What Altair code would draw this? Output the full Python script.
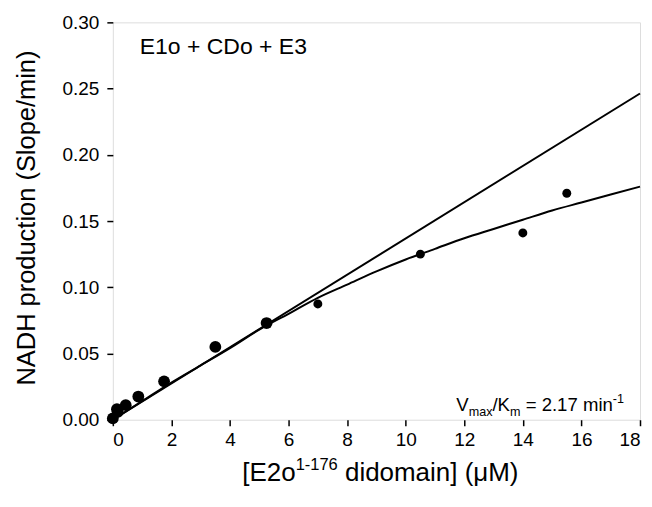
import altair as alt
import pandas as pd

# data points
conc = [0.0, 0.14, 0.17, 0.44, 0.87, 1.75, 3.5, 5.25, 7.0, 10.5, 14.0, 15.5]
rate = [0.001, 0.008, 0.006, 0.011, 0.0175, 0.029, 0.055, 0.073, 0.0874, 0.125, 0.141, 0.171]
big = [1, 1, 1, 1, 1, 1, 1, 1, 0, 0, 0, 0]

# straight initial-slope line
lin_x = [0.0, 18.0]
lin_y = [0.0, 0.2463]

# fitted curve
fit_x = [0, 1, 2, 3, 4, 5, 6, 7, 8, 9, 10, 11, 12, 13, 14, 15, 16, 17, 18]
fit_y = [0.0, 0.014, 0.028, 0.041, 0.054, 0.068, 0.080, 0.092, 0.102, 0.112,
         0.121, 0.129, 0.137, 0.144, 0.151, 0.158, 0.164, 0.170, 0.176]

x_ticks = [0, 2, 4, 6, 8, 10, 12, 14, 16, 18]
y_ticks = [0.0, 0.05, 0.10, 0.15, 0.20, 0.25, 0.30]

FONT = "Liberation Sans"
W, H = 528, 398

AW = {' ': 278, '[': 278, ']': 278, 'E': 667, '2': 556, 'o': 556, '1': 556, '-': 333,
      '7': 556, '6': 556, 'd': 556, 'i': 222, 'm': 833, 'a': 556, 'n': 556, '(': 333,
      ')': 333, 'μ': 576, 'M': 833, 'V': 667, 'x': 500, '/': 278, 'K': 667, '=': 584,
      '.': 278}


def tw(s, size):
    return sum(AW.get(c, 556) for c in s) * size / 1000.0


xs = alt.X("x:Q", scale=alt.Scale(domain=[0, 18], nice=False),
           axis=alt.Axis(values=x_ticks, format="d", title=None, domain=False,
                         grid=False, tickSize=6, tickWidth=1.5, tickColor="black",
                         labelFont=FONT, labelFontSize=19, labelColor="black",
                         labelPadding=5))
ys = alt.Y("y:Q", scale=alt.Scale(domain=[0, 0.30], nice=False),
           axis=alt.Axis(values=y_ticks, format=".2f", title=None, domain=False,
                         grid=False, tickSize=6, tickWidth=1.5, tickColor="black",
                         labelFont=FONT, labelFontSize=19, labelColor="black",
                         labelPadding=8))

pts = pd.DataFrame({"x": conc, "y": rate, "big": big})
lin = pd.DataFrame({"x": lin_x, "y": lin_y})
fit = pd.DataFrame({"x": fit_x, "y": fit_y})

line1 = alt.Chart(lin).mark_line(color="black", strokeWidth=2).encode(x=xs, y=ys)
line2 = alt.Chart(fit).mark_line(color="black", strokeWidth=2, interpolate="monotone").encode(x=xs, y=ys)
dots = alt.Chart(pts).mark_point(filled=True, shape="circle", color="black", opacity=1).encode(
    x=xs, y=ys,
    size=alt.Size("big:O", scale=alt.Scale(domain=[0, 1], range=[80, 140]), legend=None))


def txt(s, px, py, size, align="left", angle=0, baseline="alphabetic"):
    kw = dict(font=FONT, fontSize=size, color="black", align=align, baseline=baseline)
    if angle:
        kw["angle"] = angle
    return alt.Chart(pd.DataFrame({"t": [s]})).mark_text(**kw).encode(
        x=alt.value(px), y=alt.value(py), text="t:N")


def run(parts, x0, y0, layers):
    """Place text pieces left to right; leading/trailing spaces become gaps."""
    cx = x0
    for s, sz, dy in parts:
        lead = len(s) - len(s.lstrip(" "))
        cx += tw(" " * lead, sz)
        core = s.strip(" ")
        layers.append(txt(core, cx, y0 + dy, sz))
        cx += tw(core, sz)
        trail = len(s) - len(s.rstrip(" "))
        cx += tw(" " * trail, sz)
    return cx


def run_width(parts):
    return sum(tw(s, sz) for s, sz, _ in parts)


layers = [line1, line2, dots]

# panel label
layers.append(txt("E1o + CDo + E3", 27, 32, 23))

# Vmax/Km annotation
F, S = 18.6, 12.6
vparts = [("V", F, 0), ("max", S, 5), ("/K", F, 0), ("m", S, 5), (" = 2.17 min", F, 0), ("-1", S, -8)]
run(vparts, 344, 389, layers)

# x title with superscript
TF, TS = 26, 16.5
xparts = [("[E2o", TF, 0), ("1-176", TS, -11), (" didomain] (μM)", TF, 0)]
run(xparts, W / 2 - run_width(xparts) / 2 + 4, 459, layers)

# y title
layers.append(txt("NADH production (Slope/min)", -86, H / 2 - 3, 25.5, align="center",
                  angle=270, baseline="middle"))

chart = alt.layer(*layers).properties(
    width=W, height=H,
    autosize=alt.AutoSizeParams(type="none"),
    padding={"left": 105, "top": 14, "right": 4, "bottom": 70},
).configure_view(stroke="black", strokeWidth=1.8).configure(background="white")

chart.save("out.html", embed_options={"renderer": "svg", "actions": False})
